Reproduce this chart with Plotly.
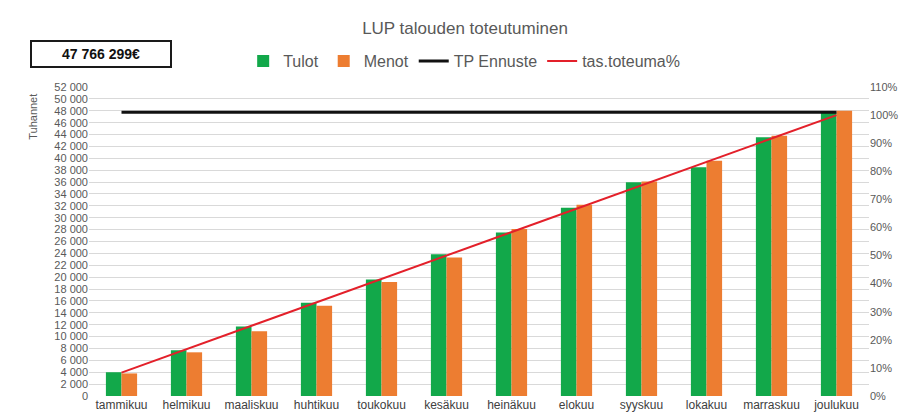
import plotly.graph_objects as go

GREEN = "#12A84A"
ORANGE = "#ED7D31"
RED = "#E3202A"
TEXT_COLOR = "#595959"
GRID_COLOR = "#D9D9D9"
NARROW = "Liberation Sans Narrow, Arial Narrow, Liberation Sans, sans-serif"
SANS = "Liberation Sans, Arial, sans-serif"

months = ["tammikuu", "helmikuu", "maaliskuu", "huhtikuu", "toukokuu", "kesäkuu",
          "heinäkuu", "elokuu", "syyskuu", "lokakuu", "marraskuu", "joulukuu"]
# tuhansina euroina
tulot = [4000, 7700, 11700, 15700, 19600, 23850, 27500, 31700, 35950, 38500, 43550, 47700]
menot = [3800, 7350, 10900, 15200, 19200, 23300, 28100, 32200, 36100, 39600, 43800, 48000]
tp_ennuste = [47766] * 12
tas_toteuma = [1/12, 2/12, 3/12, 4/12, 5/12, 6/12, 7/12, 8/12, 9/12, 10/12, 11/12, 12/12]
total_label = "47 766 299€"

left_ticks = list(range(0, 52001, 2000))
left_labels = [f"{v:,}".replace(",", " ") for v in left_ticks]
right_ticks = [i / 10 for i in range(12)]
right_labels = [f"{i * 10}%" for i in range(12)]

fig = go.Figure()
fig.add_bar(x=months, y=tulot, name="Tulot", marker_color=GREEN, marker_line_width=0)
fig.add_bar(x=months, y=menot, name="Menot", marker_color=ORANGE, marker_line_width=0)
fig.add_trace(go.Scatter(x=months, y=tp_ennuste, name="TP Ennuste", mode="lines",
                         line=dict(color="#111111", width=3)))
fig.add_trace(go.Scatter(x=months, y=tas_toteuma, name="tas.toteuma%", mode="lines",
                         line=dict(color=RED, width=2), yaxis="y2"))

# the page body adds an 8px offset, margins compensate for it
fig.update_layout(
    width=914, height=418,
    paper_bgcolor="white", plot_bgcolor="white",
    font=dict(family=NARROW, color=TEXT_COLOR, size=11),
    margin=dict(l=81, r=53, t=79, b=30, autoexpand=False),
    barmode="group", bargap=0.52, bargroupgap=0,
    title=dict(text="LUP talouden toteutuminen", x=0.5, xanchor="center",
               y=1 - 20 / 418, yanchor="middle",
               font=dict(family=SANS, size=17, color=TEXT_COLOR)),
    legend=dict(orientation="h", x=0.481, xanchor="center", y=1.139, yanchor="top",
                font=dict(family=SANS, size=16, color=TEXT_COLOR),
                itemwidth=30, tracegroupgap=0, bgcolor="rgba(0,0,0,0)"),
    xaxis=dict(showgrid=False, zeroline=False, ticks="", showline=False,
               tickfont=dict(family=SANS, size=12, color="#404040")),
    yaxis=dict(range=[0, 52000], tickvals=left_ticks, ticktext=left_labels,
               gridcolor=GRID_COLOR, gridwidth=1, zeroline=False, ticks="",
               tickfont=dict(size=11, color=TEXT_COLOR)),
    yaxis2=dict(overlaying="y", side="right", range=[0, 1.1], tickvals=right_ticks,
                ticktext=right_labels, showgrid=False, zeroline=False, ticks="",
                tickfont=dict(size=11, color=TEXT_COLOR)),
    showlegend=True,
)

fig.add_annotation(text="Tuhannet", textangle=-90, xref="paper", yref="paper",
                   x=-0.072, y=0.984, xanchor="center", yanchor="top", showarrow=False,
                   font=dict(size=11, color=TEXT_COLOR))
fig.add_annotation(text=f"<b>{total_label}</b>", xref="paper", yref="paper",
                   x=-0.0756, y=1.107, xanchor="left", yanchor="middle", showarrow=False,
                   width=136, height=22, bordercolor="#1a1a1a", borderwidth=2,
                   bgcolor="white", font=dict(family=SANS, size=14, color="#111111"))
fig.add_shape(type="rect", xref="paper", yref="paper", x0=-0.1077, x1=1.055,
              y0=-0.2, y1=1.259, line=dict(color="#E0E0E0", width=1), layer="below")

fig.write_html("out.html")
